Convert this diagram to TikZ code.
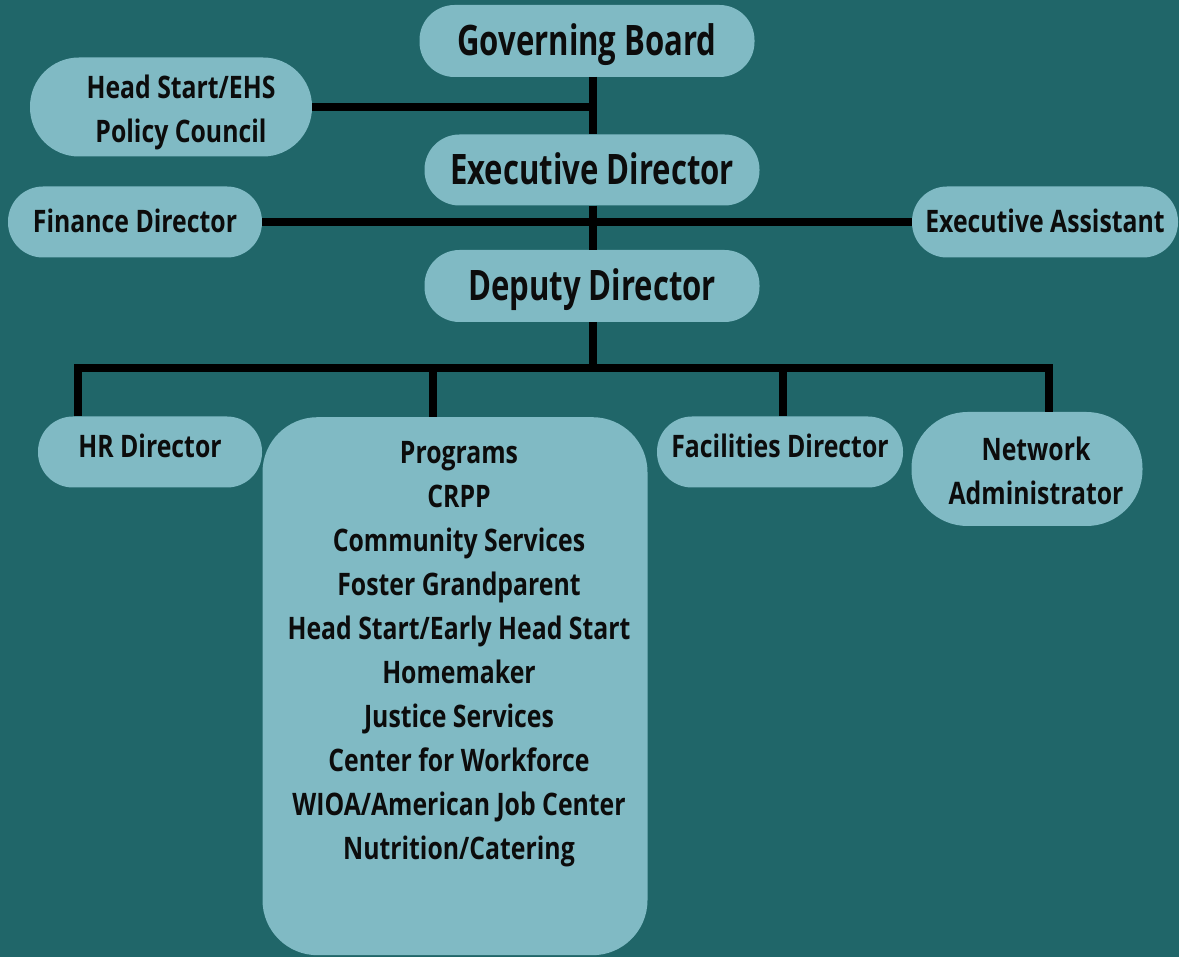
\documentclass[tikz,border=0pt]{standalone}
\usepackage{fontspec}
\setmainfont{Open Sans}[FakeStretch=0.8]
\newfontfamily\bigfont{Open Sans}[FakeStretch=0.74]
\usepackage{tikz}
\usetikzlibrary{positioning}

\definecolor{tealbg}{RGB}{32,102,105}
\definecolor{boxblue}{RGB}{128,186,196}
\definecolor{inkblack}{RGB}{12,12,12}

\tikzset{
  pill/.style={fill=boxblue, rounded corners=35pt, align=center, inner sep=0pt,
    text=inkblack, font=\bfseries\fontsize{31}{44}\selectfont},
  oneline/.style={text height=22pt, text depth=0pt},
  bigpill/.style={pill, font=\bigfont\bfseries\fontsize{42}{50}\selectfont,
    text height=30pt, text depth=0pt},
  textonly/.style={pill, fill=none},
  link/.style={draw=black, line width=8pt}
}

\begin{document}
\begin{tikzpicture}[x=1pt,y=-1pt]
	\fill[tealbg] (0,0) rectangle (1179,957);
	\useasboundingbox (0,0) rectangle (1179,957);
	% top of the chart
	\node[bigpill, minimum width=335, minimum height=72] (gov) at (587,41) {Governing Board};
	\node[pill, minimum width=282, minimum height=99, rounded corners=49pt] (hs) at (171,107) {};
	\node[textonly] (hstext) at (181,112) {Head Start/EHS\\Policy Council};
	\node[bigpill, minimum width=335, minimum height=71] (exe) at (592,170) {Executive Director};
	\node[pill, oneline, minimum width=254, minimum height=71] (fin) at (135,222) {Finance Director};
	\node[pill, oneline, minimum width=266, minimum height=71] (asst) at (1045,222) {Executive Assistant};
	\node[bigpill, minimum width=335, minimum height=72] (dep) at (592,286) {Deputy Director};
	% bottom row
	\node[pill, oneline, text depth=10pt, minimum width=224, minimum height=71] (hr) at (150,452) {HR Director};
	\node[pill, minimum width=385, minimum height=538, rounded corners=55pt, anchor=north] (prog) at (455,417) {};
	\node[textonly, anchor=north] (proglist) at (459,441) {Programs\\CRPP\\Community Services\\Foster Grandparent\\Head Start/Early Head Start\\Homemaker\\Justice Services\\Center for Workforce\\WIOA/American Job Center\\Nutrition/Catering};
	\node[pill, oneline, text depth=10pt, minimum width=246, minimum height=71] (fac) at (780,452) {Facilities Director};
	\node[pill, minimum width=231, minimum height=114, rounded corners=56pt] (net) at (1027,469) {};
	\node[textonly] (nettext) at (1036,471) {Network\\Administrator};
	% connectors
	\coordinate (dhr) at (78,368);
	\coordinate (dpg) at (433,368);
	\coordinate (dfc) at (783,368);
	\coordinate (dnw) at (1049,368);
	\draw[link] (593,77) coordinate (gbot) -- (gbot |- exe.north);
	\draw[link] (hs.east) -- (hs.east -| gbot);
	\draw[link] (gbot |- exe.south) -- (gbot |- dep.north);
	\draw[link] (fin.east) -- (asst.west);
	\draw[link] (gbot |- dep.south) -- (gbot |- dhr);
	\draw[link] (dhr |- hr.north) -- (dhr) -- (dnw) -- (dnw |- net.north);
	\draw[link] (dpg) -- (dpg |- prog.north);
	\draw[link] (dfc) -- (dfc |- fac.north);
\end{tikzpicture}
\end{document}
